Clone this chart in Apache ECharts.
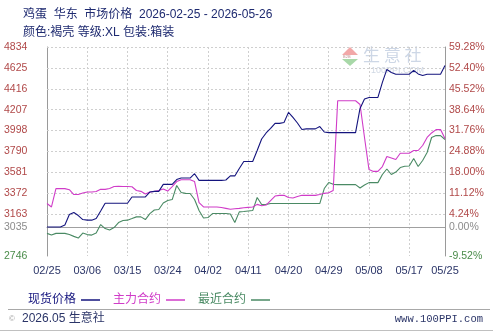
<!DOCTYPE html>
<html>
<head>
<meta charset="utf-8">
<script src="https://cdn.jsdelivr.net/npm/echarts@6/dist/echarts.min.js"></script>
<style>
html,body{margin:0;padding:0;background:#fff;}
#chart{width:493px;height:332px;}
</style>
</head>
<body>
<div id="chart"></div>
<script>
// ---------- data ----------
const startDate = '2026-02-25';
const dayCount = 90;
const categories = [];
(function () {
  const d0 = new Date(startDate + 'T00:00:00Z');
  for (let i = 0; i < dayCount; i++) {
    const d = new Date(d0.getTime() + i * 86400000);
    const mm = String(d.getUTCMonth() + 1).padStart(2, '0');
    const dd = String(d.getUTCDate()).padStart(2, '0');
    categories.push(mm + '/' + dd);
  }
})();

const seriesNames = ['现货价格', '主力合约', '最近合约'];

const spotPrice = [
  3035, 3035, 3035, 3035, 3055, 3160, 3180, 3150, 3110, 3104,
  3104, 3120, 3196, 3273, 3273, 3273, 3273, 3273, 3273, 3336,
  3336, 3336, 3336, 3385, 3392, 3392, 3462, 3462, 3462, 3510,
  3525, 3525, 3525, 3568, 3502, 3502, 3502, 3502, 3502, 3502,
  3505, 3546, 3546, 3620, 3690, 3690, 3690, 3800, 3915, 3975,
  4020, 4071, 4071, 4080, 4181, 4130, 4075, 4010, 4016, 4016,
  4016, 4039, 3985, 3979, 3979, 3979, 3979, 3979, 3979, 3979,
  4220, 4315, 4330, 4330, 4330, 4480, 4610, 4580, 4562, 4562,
  4562, 4562, 4600, 4565, 4550, 4562, 4562, 4562, 4562, 4650
];

const mainContract = [
  3270, 3236, 3419, 3419, 3419, 3408, 3360, 3360, 3375, 3385,
  3385, 3390, 3412, 3412, 3420, 3440, 3442, 3440, 3440, 3438,
  3400, 3392, 3365, 3385, 3392, 3400, 3415, 3395, 3440, 3490,
  3508, 3508, 3508, 3490, 3280, 3236, 3236, 3236, 3236, 3230,
  3222, 3213, 3218, 3222, 3228, 3232, 3236, 3262, 3248, 3255,
  3300, 3345, 3352, 3352, 3330, 3325, 3340, 3352, 3352, 3352,
  3352, 3360, 3372, 3378, 3400, 4297, 4297, 4297, 4297, 4297,
  4260, 3930, 3610, 3591, 3591, 3640, 3740, 3725, 3710, 3773,
  3773, 3773, 3800, 3800, 3850, 3930, 3975, 4009, 4009, 3920
];

const nearContract = [
  2972, 2955, 2972, 2972, 2972, 2960, 2942, 2925, 2975, 2960,
  2955, 2975, 3060, 3020, 3005, 3030, 3080, 3100, 3104, 3120,
  3137, 3137, 3110, 3170, 3205, 3210, 3275, 3300, 3310, 3450,
  3380, 3372, 3370, 3310, 3200, 3125, 3130, 3170, 3170, 3170,
  3170, 3165, 3080, 3187, 3190, 3195, 3200, 3330, 3260, 3262,
  3270, 3270, 3270, 3270, 3270, 3270, 3270, 3270, 3270, 3270,
  3270, 3270, 3420, 3480, 3462, 3459, 3459, 3459, 3459, 3459,
  3425, 3455, 3479, 3479, 3479, 3560, 3615, 3560, 3585, 3630,
  3642, 3645, 3720, 3640, 3700, 3780, 3930, 3949, 3949, 3910
];

const basePrice = 3035;
const leftMin = 2746, leftMax = 4834;
const rightMin = -9.52, rightMax = 59.28;
const leftTickValues = [2746, 3035, 3163.6, 3372.4, 3581.2, 3790, 3998.8, 4207.6, 4416.4, 4625.2, 4834];
const rightTickValues = [-9.52, 0, 4.24, 11.12, 18.00, 24.88, 31.76, 38.64, 45.52, 52.40, 59.28];
const gridLineValues = [3163.6, 3372.4, 3581.2, 3790, 3998.8, 4207.6, 4416.4, 4625.2, 4834];

// ---------- style ----------
const C_SPOT = '#14147e';
const C_MAIN = '#d03cc8';
const C_NEAR = '#4a8a64';
const C_LABEL = '#b04848';
const C_BASE = '#8c8c8c';
const C_LOW = '#4a8c4a';
const C_TEXT = '#1e2a70';
const NUMFONT = 'Liberation Sans';
const CJKFONT = '"Liberation Sans","Noto Sans CJK SC"';

const lastIdx = dayCount - 1;
const showIdx = (i) => i % 9 === 0 || i === lastIdx;

const chart = echarts.init(document.getElementById('chart'), null, {renderer: 'canvas'});

const option = {
  animation: false,
  backgroundColor: '#ffffff',
  title: {
    text: '鸡蛋  华东  市场价格  2026-02-25 - 2026-05-26',
    subtext: '颜色:褐壳 等级:XL 包装:箱装',
    left: 23, top: 9, padding: 0, itemGap: 6,
    textStyle: {fontSize: 12, fontWeight: 'normal', color: C_TEXT, fontFamily: CJKFONT},
    subtextStyle: {fontSize: 12, color: C_TEXT, fontFamily: CJKFONT}
  },
  grid: {left: 47, right: 48, top: 47, bottom: 76, containLabel: false},
  legend: {
    left: 23, top: 289, align: 'right', icon: 'rect', itemWidth: 19, itemHeight: 1.5, itemGap: 13,
    textStyle: {fontSize: 12, fontFamily: CJKFONT},
    data: [
      {name: seriesNames[0], textStyle: {color: C_SPOT}},
      {name: seriesNames[1], textStyle: {color: C_MAIN}},
      {name: seriesNames[2], textStyle: {color: C_NEAR}}
    ],
    selectedMode: false
  },
  xAxis: {
    type: 'category',
    data: categories,
    boundaryGap: false,
    axisLine: {lineStyle: {color: '#9a9a9a', width: 1}},
    axisTick: {show: false},
    axisLabel: {interval: (i) => showIdx(i), color: '#2b3568', fontSize: 11, fontFamily: NUMFONT, margin: 9},
    splitLine: {show: true, interval: (i) => showIdx(i) && i !== 0 && i !== lastIdx,
      lineStyle: {color: '#cfcfcf', type: [2, 2], width: 1}}
  },
  yAxis: [
    {
      type: 'value', min: leftMin, max: leftMax, position: 'left',
      axisLine: {show: true, lineStyle: {color: '#9a9a9a'}},
      axisTick: {show: false, customValues: leftTickValues},
      splitLine: {show: false},
      axisLabel: {
        customValues: leftTickValues,
        formatter: (v) => String(Math.floor(Number(v) + 1e-6)),
        color: (v) => {
          const n = Number(v);
          if (Math.abs(n - basePrice) < 0.5) return C_BASE;
          if (Math.abs(n - leftMin) < 0.5) return C_LOW;
          return C_LABEL;
        },
        fontSize: 10.5, fontFamily: NUMFONT, align: 'left', margin: 43
      }
    },
    {
      type: 'value', min: rightMin, max: rightMax, position: 'right',
      axisLine: {show: true, lineStyle: {color: '#9a9a9a'}},
      axisTick: {show: false, customValues: rightTickValues},
      splitLine: {show: false},
      axisLabel: {
        customValues: rightTickValues,
        formatter: (v) => Number(v).toFixed(2) + '%',
        color: (v) => {
          const n = Number(v);
          if (Math.abs(n) < 0.005) return C_BASE;
          if (Math.abs(n - rightMin) < 0.005) return C_LOW;
          return C_LABEL;
        },
        fontSize: 10.5, fontFamily: NUMFONT, align: 'left', margin: 4
      }
    }
  ],
  series: [
    {
      name: seriesNames[0], type: 'line', data: spotPrice, yAxisIndex: 0,
      symbol: 'none', lineStyle: {color: C_SPOT, width: 1.1}, itemStyle: {color: C_SPOT}, z: 4,
      markLine: {
        silent: true, symbol: 'none', z: 1, animation: false,
        label: {show: false},
        data: gridLineValues.map(v => ({yAxis: v, lineStyle: {color: '#cfcfcf', type: [2, 2], width: 1}}))
          .concat([{yAxis: basePrice, lineStyle: {color: '#a0a0a0', type: 'solid', width: 1.2}}])
      }
    },
    {
      name: seriesNames[1], type: 'line', data: mainContract, yAxisIndex: 0,
      symbol: 'none', lineStyle: {color: C_MAIN, width: 1.1}, itemStyle: {color: C_MAIN}, z: 3
    },
    {
      name: seriesNames[2], type: 'line', data: nearContract, yAxisIndex: 0,
      symbol: 'none', lineStyle: {color: C_NEAR, width: 1.1}, itemStyle: {color: C_NEAR}, z: 2
    }
  ],
  graphic: [
    // watermark
    {type: 'polygon', z: 0, silent: true, shape: {points: [[350, 47], [342, 55], [358, 55]]}, style: {fill: '#f2a8a8'}},
    {type: 'polygon', z: 0, silent: true, shape: {points: [[342, 59], [358, 59], [350, 66]]}, style: {fill: '#a8d8a8'}},
    {type: 'text', z: 0, silent: true, left: 343, top: 55, style: {text: 'B2B', fontSize: 4, fill: '#c09090'}},
    {type: 'text', z: 0, silent: true, left: 363, top: 46, style: {text: '生 意 社', fontSize: 17, fill: '#cdd7e6', fontFamily: '"Noto Sans CJK SC"'}},
    {type: 'text', z: 0, silent: true, left: 371, top: 66, style: {text: '100PPI.COM', fontSize: 9, fill: '#d0d8e4', fontFamily: NUMFONT}},
    // footer
    {type: 'line', silent: true, shape: {x1: 8, y1: 309.5, x2: 490, y2: 309.5}, style: {stroke: '#a8a8a8', lineWidth: 1}},
    {type: 'line', silent: true, shape: {x1: 0, y1: 330.5, x2: 493, y2: 330.5}, style: {stroke: '#c0c0c0', lineWidth: 1}},
    {type: 'text', silent: true, left: 9, top: 315, style: {text: '©', fontSize: 8, fill: '#a0a0a0', fontFamily: NUMFONT}},
    {type: 'text', silent: true, left: 22, top: 313, style: {text: '2026.05 生意社', fontSize: 12, fill: '#2b3568', fontFamily: CJKFONT}},
    {type: 'text', silent: true, right: 10, top: 314, style: {text: 'www.100PPI.com', fontSize: 10.5, fill: '#2b3568', fontFamily: 'Liberation Mono'}}
  ]
};

chart.setOption(option);
</script>
</body>
</html>
